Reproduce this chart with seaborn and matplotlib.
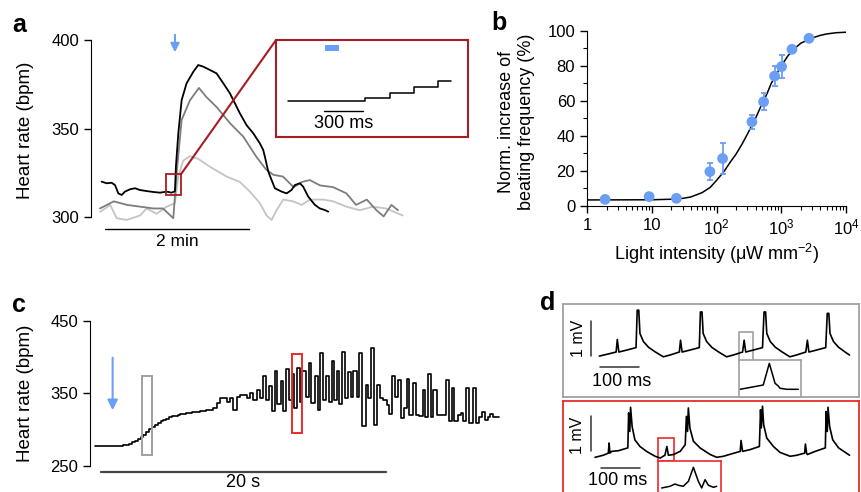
import matplotlib.pyplot as plt
import matplotlib.patches as patches
from matplotlib.patches import ConnectionPatch
from matplotlib.ticker import LogLocator, FixedLocator, NullFormatter
import seaborn as sns

sns.set_style("ticks", rc={'axes.edgecolor': 'black', 'xtick.color': 'black', 'ytick.color': 'black',
                           'text.color': 'black', 'axes.labelcolor': 'black'})
plt.rcParams['font.family'] = ['Liberation Sans', 'DejaVu Sans']
plt.rcParams['mathtext.fontset'] = 'custom'
plt.rcParams['mathtext.rm'] = 'Liberation Sans'
plt.rcParams['mathtext.it'] = 'Liberation Sans:italic'
plt.rcParams['mathtext.bf'] = 'Liberation Sans:bold'

BLUE = '#6b9ef5'
DARKRED = '#a61c23'
RED = '#ec2a2a'
GRAY = '#a0a0a0'

# ---- panel a: heart rate, three hearts (time in s, light on at 0)
black_t = [-61.1, -56.9, -52.8, -50, -47.2, -44.4, -41.7, -37.5, -33.3, -29.2, -23.6, -18.1, -12.5,
           -6.9, -2.8, 0, 0.8, 2.8, 5.6, 9.7, 15.3, 19.4, 23.6, 29.2, 34.7, 40.3, 45.8, 54.2, 59.7,
           65.3, 70.8, 73.6, 75, 77.8, 80.6, 83.3, 88.9, 93.1, 97.2, 100, 104.2, 106.9, 111.1, 116.7,
           120.8, 125, 127.8]
black_bpm = [320.1, 319.2, 319.5, 318.2, 313.5, 312.6, 314.5, 315.8, 316.4, 315.4, 314.8, 314.3,
             313.9, 314.5, 313.9, 314.7, 328.6, 347.4, 366.2, 375.6, 382.1, 385.9, 385, 383.1, 381.2,
             375.6, 370, 358.6, 352, 347.4, 341.7, 338, 334.2, 325.8, 321, 316.4, 314.5, 313.5, 315.4,
             318.2, 319.2, 317.3, 311.7, 307, 305, 304.1, 303.2]
dgray_t = [-62.5, -51, -40, -29, -18, -10, -1.4, 1.4, 5.6, 12.5, 20, 26, 35, 46, 57, 68, 76, 82, 90,
           99, 106, 112.5, 121, 132, 143, 151, 160, 168, 174, 180.5, 186]
dgray_bpm = [305, 309, 307, 306, 305, 305, 299.5, 325, 355, 366, 373, 368, 362, 353, 345.5, 334, 327,
             324, 323, 317, 320, 321, 318, 317, 313.5, 307, 310, 304, 300.5, 307, 304]
lgray_t = [-62.5, -54, -48.6, -40.3, -29.2, -23.6, -15.3, -6.9, 0, 2.8, 6.9, 12.5, 19.4, 29.2, 43, 54,
           62.5, 70.8, 76.4, 80.6, 84.7, 90.3, 98.6, 105.6, 112.5, 123.6, 132, 143, 154, 165, 176, 190]
lgray_bpm = [303, 307, 299.5, 298.5, 301, 305, 302, 306, 308, 323, 332, 334.5, 333, 328.5, 323, 320,
             314.5, 308, 301, 298.5, 304, 310, 309, 307, 310, 310, 309, 306, 304, 306, 305, 301]
# inset (ms)
inset_ms = [95, 300, 685, 872, 1057, 1241, 1344]
inset_bpm = [313.5, 313.3, 314.6, 316.5, 318.7, 320.9, 320.9]

# ---- panel b: dose response
light = [1.9, 9.1, 24, 79, 124, 352, 533, 788, 1011, 1462, 2680]
resp = [3.6, 5.2, 4.2, 19.5, 27, 48, 59.5, 74.2, 79.6, 89.5, 95.8]
resp_err = [0, 0, 0, 4.8, 9, 4, 5, 5.7, 6.7, 2, 1.5]
fit_x = [1, 10, 20, 30, 40, 60, 80, 100, 130, 160, 200, 250, 300, 400, 500, 600, 700, 850, 1000,
         1250, 1500, 2000, 3000, 4000, 5000, 7000, 10000]
fit_y = [3.3, 3.4, 3.7, 4.2, 5, 7.5, 10.5, 14.5, 19.5, 24.5, 29.5, 35.5, 41, 50, 58, 64, 70, 75.5, 80,
         85.5, 89, 93, 96, 97.5, 98.3, 99, 99.3]

# ---- panel c: beat-to-beat heart rate (s, bpm)
c_t = [0.00, 2.0, 2.2, 2.4, 2.6, 2.8, 3.0, 3.2, 3.4, 3.6, 3.8, 4.0, 4.2, 4.4, 4.6, 4.8, 5.0, 5.2,
       5.4, 5.6, 5.8, 6.0, 6.2, 6.4, 6.6, 6.8, 7.0, 7.2, 7.4, 7.6, 7.8, 8.0, 8.30, 8.54, 8.77, 9.24,
       9.47, 9.71, 9.94, 10.18, 10.64, 10.88, 11.11, 11.35,
       11.58, 11.77, 12.00, 12.19, 12.40, 12.63, 12.80, 13.03, 13.22, 13.40, 13.59, 13.80, 13.99,
       14.15, 14.39, 14.55, 14.78, 15.02, 15.16, 15.44, 15.63, 15.79, 15.98, 16.19, 16.42, 16.61,
       16.80, 16.96, 17.15, 17.36, 17.54, 17.73, 17.94, 18.13, 18.36, 18.55, 18.76, 18.99, 19.13,
       19.37, 19.58, 19.81, 20.00, 20.23, 20.47, 20.65, 20.82, 21.05, 21.29, 21.47, 21.68, 21.87,
       22.06, 22.29, 22.53, 22.76, 22.99, 23.16, 23.39, 23.56, 23.74, 23.98, 24.63, 24.82, 25.03,
       25.22, 25.45, 25.66, 25.85, 26.04, 26.27, 26.50, 26.74, 26.97, 27.16, 27.37, 27.56, 27.72,
       27.95, 28.35]
c_bpm = [277, 278, 279, 280, 282, 284, 287, 290, 293, 296.5, 300, 303.5, 306.5, 309, 311, 313, 315,
         316.5, 318, 319, 320, 321, 321.5, 322, 323, 323.5, 324, 324.5, 325, 325.5, 326.5, 327,
         329, 336, 344, 338, 344, 327, 345, 347.5, 343, 350, 341, 355,
         343, 374, 340, 360, 325, 381, 335, 367, 325, 384, 341, 377, 329,
         385, 338, 381, 345, 392, 337, 374, 327, 405, 341, 374, 338, 394,
         341, 380, 335, 407, 343, 379, 345, 381, 345, 405, 305, 361, 344,
         412, 306, 361, 344, 341, 334, 321, 374, 345, 368, 316, 329, 369,
         320, 364, 320, 318, 354, 317, 376, 317, 354, 320, 368, 311, 357,
         311, 320, 322, 311, 357, 309, 357, 309, 317, 324, 313, 317, 321,
         317, 317]

# ---- panel d: ECG traces (ms, mV)
ecg1_ms = [94, 113, 137, 140, 144, 164, 188, 191, 195, 198, 207, 220, 237, 258,
           275, 299, 302, 306, 326, 350, 353, 357, 360, 369, 382, 399, 420,
           437, 461, 465, 469, 488, 512, 516, 520, 523, 532, 545, 562, 582,
           599, 623, 627, 631, 650, 674, 678, 682, 685, 694, 707, 723, 735]
ecg1_mv = [-0.03, 0.02, 0.085, 0.44, 0.085, 0.14, 0.21, 1.27, 1.27, 0.61, 0.38, 0.22, 0.09, -0.05,
           0.0, 0.085, 0.42, 0.085, 0.14, 0.21, 1.22, 1.22, 0.61, 0.38, 0.22, 0.09, -0.05,
           0.0, 0.085, 0.42, 0.085, 0.14, 0.21, 1.22, 1.22, 0.61, 0.38, 0.22, 0.09, -0.05,
           0.0, 0.085, 0.42, 0.085, 0.14, 0.21, 1.18, 1.18, 0.61, 0.38, 0.22, 0.09, 0.0]
ecg1z_ms = [451.6, 465.4, 469.0, 472.4, 474.3, 475.3, 479.3, 486.2]
ecg1z_mv = [0.031, 0.107, 0.49, 0.137, 0.09, 0.05, 0.031, 0.031]

ecg2_ms = [83, 104, 117, 119, 121, 125.5, 143, 167, 169, 172, 174, 178, 185, 198, 215, 237, 250,
           262, 267, 271, 284, 301, 314, 317, 320, 322, 326, 335, 352, 378, 395, 412, 433, 455, 457,
           461, 480, 504, 507, 509, 512, 515, 523, 540, 557, 583, 600, 620, 622, 625, 627, 647, 673,
           675, 678, 680, 684, 692, 707, 735]
ecg2_mv = [0, 0.06, 0.12, 0.41, 0.12, 0.17, 0.19, 0.27, 1.27, 0.74, 1.43, 0.88, 0.50, 0.31, 0.17,
           0.03, -0.02, 0.06, 0.31, 0.06, 0.08, 0.17, 0.36, 1.17, 0.74, 1.41, 0.84, 0.46, 0.27, 0.08,
           0, 0.03, 0.10, 0.17, 0.48, 0.17, 0.22, 0.31, 1.36, 0.84, 1.46, 0.93, 0.55, 0.31, 0.14,
           0.03, 0.06, 0.12, 0.38, 0.12, 0.08, 0.17, 0.27, 1.31, 0.74, 1.43, 0.88, 0.50, 0.27, 0.06]
ecg2z_ms = [247.1, 252.3, 255.4, 257.5, 260.6, 263.8, 266.9, 270.0, 272.1, 274.2, 276.3, 279.4, 281.5]
ecg2z_mv = [-0.075, -0.045, -0.004, -0.027, -0.045, 0.044, 0.293, 0.044, -0.075, 0.073, -0.027,
            -0.063, -0.045]


def trace(ax, x, y, color='black', lw=1.3, **kw):
    sns.lineplot(x=x, y=y, ax=ax, color=color, lw=lw, estimator=None, sort=False, legend=False, **kw)


def box_axes(ax, color, lw=1.3):
    ax.set_xticks([])
    ax.set_yticks([])
    ax.set_xlabel('')
    ax.set_ylabel('')
    for s in ax.spines.values():
        s.set_visible(True)
        s.set_color(color)
        s.set_linewidth(lw)


fig = plt.figure(figsize=(8.61, 4.92), dpi=100)

# ===================== a
ax_a = fig.add_axes([0.1057, 0.5439, 0.3705, 0.3819])
trace(ax_a, lgray_t, lgray_bpm, color='#c4c4c4')
trace(ax_a, dgray_t, dgray_bpm, color='#7d7d7d')
trace(ax_a, black_t, black_bpm, color='black')
ax_a.set_xlim(-70, 196)
ax_a.set_ylim(296, 402)
sns.despine(ax=ax_a, bottom=True)
ax_a.set_xticks([])
ax_a.set_yticks([300, 350, 400])
ax_a.spines['left'].set_bounds(300, 400)
ax_a.tick_params(axis='y', labelsize=12, length=5, width=1)
ax_a.set_ylabel('Heart rate (bpm)', fontsize=13.5)
ax_a.yaxis.set_label_coords(-0.179, 0.5)
ax_a.plot([-58.3, 61.7], [293.2, 293.2], color='black', lw=1, clip_on=False)
ax_a.text(1.7, 286.6, '2 min', ha='center', va='center', fontsize=12.5)
ax_a.annotate('', xy=(0, 391.5), xytext=(0, 404.5), annotation_clip=False,
              arrowprops=dict(arrowstyle='-|>', color=BLUE, lw=1.5, mutation_scale=13))
ax_a.add_patch(patches.Rectangle((-7.5, 312.4), 12.5, 11.9, fill=False, ec=DARKRED, lw=1.3, zorder=5))

ax_ai = fig.add_axes([0.3206, 0.7222, 0.2233, 0.1965])
trace(ax_ai, inset_ms, inset_bpm, color='black', lw=1.1, drawstyle='steps-post')
ax_ai.set_xlim(0, 1477)
ax_ai.set_ylim(300.2, 336)
box_axes(ax_ai, DARKRED, lw=1.5)
ax_ai.add_patch(patches.Rectangle((377, 331.9), 108, 2.2, color=BLUE, lw=0))
ax_ai.plot([371, 671], [309.7, 309.7], color='black', lw=1)
ax_ai.text(521, 304.9, '300 ms', ha='center', va='center', fontsize=13)
con = ConnectionPatch(xyA=(5, 324.3), coordsA=ax_a.transData, xyB=(0, 1), coordsB=ax_ai.transAxes,
                      color=DARKRED, lw=1.5)
fig.add_artist(con)

# ===================== b
ax_b = fig.add_axes([0.6818, 0.5819, 0.3008, 0.3551])
ax_b.set_xscale('log')
trace(ax_b, fit_x, fit_y, color='black', lw=1.1)
ax_b.errorbar(light, resp, yerr=resp_err, fmt='none', ecolor=BLUE, elinewidth=1.3, capsize=2.5,
              capthick=1.3, zorder=2)
sns.scatterplot(x=light, y=resp, ax=ax_b, color=BLUE, s=60, edgecolor='none', zorder=3, clip_on=False)
ax_b.set_xlim(1, 1e4)
ax_b.set_ylim(0, 100)
sns.despine(ax=ax_b)
ax_b.set_xticks([1, 10, 100, 1000, 10000], labels=['1', '10', '$10^2$', '$10^3$', '$10^4$'])
ax_b.xaxis.set_minor_locator(LogLocator(base=10, subs=range(2, 10)))
ax_b.xaxis.set_minor_formatter(NullFormatter())
ax_b.set_yticks([0, 20, 40, 60, 80, 100])
ax_b.yaxis.set_minor_locator(FixedLocator([10, 30, 50, 70, 90]))
ax_b.tick_params(which='major', labelsize=12, length=5, width=1)
ax_b.tick_params(which='minor', length=3, width=0.8)
ax_b.set_xlabel('Light intensity (μW mm$^{-2}$)', fontsize=13, labelpad=3)
ax_b.set_ylabel('Norm. increase of\nbeating frequency (%)', fontsize=13, linespacing=1.25)
ax_b.yaxis.set_label_coords(-0.2, 0.48)

# ===================== c
ax_c = fig.add_axes([0.1045, 0.0535, 0.482, 0.2947])
trace(ax_c, c_t, c_bpm, color='black', lw=1.2, drawstyle='steps-post')
ax_c.set_xlim(-0.35, 28.77)
ax_c.set_ylim(250, 450)
sns.despine(ax=ax_c, bottom=True)
ax_c.set_xticks([])
ax_c.set_yticks([250, 350, 450])
ax_c.tick_params(axis='y', labelsize=12, length=5, width=1)
ax_c.set_ylabel('Heart rate (bpm)', fontsize=13.5)
ax_c.yaxis.set_label_coords(-0.135, 0.5)
ax_c.plot([0.42, 20.42], [241.7, 241.7], color='#444444', lw=1.6, clip_on=False)
ax_c.text(10.4, 226.5, '20 s', ha='center', va='center', fontsize=13)
ax_c.annotate('', xy=(1.24, 322.7), xytext=(1.24, 402.7),
              arrowprops=dict(arrowstyle='-|>', color=BLUE, lw=1.5, mutation_scale=15))
ax_c.add_patch(patches.Rectangle((3.30, 265), 0.70, 108.7, fill=False, ec=GRAY, lw=1.4, zorder=5))
ax_c.add_patch(patches.Rectangle((13.80, 294.7), 0.73, 109.3, fill=False, ec=RED, lw=1.4, zorder=5))

# ===================== d
ax_d1 = fig.add_axes([0.6535, 0.1937, 0.3445, 0.1884])
trace(ax_d1, ecg1_ms, ecg1_mv, color='black', lw=1.2)
ax_d1.set_xlim(0, 760)
ax_d1.set_ylim(-1.18, 1.445)
box_axes(ax_d1, GRAY, lw=1.3)
ax_d1.plot([95.6, 195.6], [-0.33, -0.33], color='#333333', lw=1.1)
ax_d1.text(150, -0.76, '100 ms', ha='center', va='center', fontsize=13)
ax_d1.plot([71.7, 71.7], [-0.03, 0.97], color='#333333', lw=1.1)
ax_d1.text(40, 0.47, '1 mV', ha='center', va='center', rotation=90, fontsize=11.5)
ax_d1.add_patch(patches.Rectangle((452, -0.16), 36.7, 0.82, fill=False, ec=GRAY, lw=1.2))

ax_d1i = fig.add_axes([0.8583, 0.1937, 0.0724, 0.0746])
trace(ax_d1i, ecg1z_ms, ecg1z_mv, color='black', lw=1.1)
ax_d1i.set_xlim(451, 488)
ax_d1i.set_ylim(-0.1, 0.55)
box_axes(ax_d1i, GRAY, lw=1.2)

ax_d2 = fig.add_axes([0.6535, -0.0061, 0.3445, 0.1904])
trace(ax_d2, ecg2_ms, ecg2_mv, color='black', lw=1.2)
ax_d2.set_xlim(0, 760)
ax_d2.set_ylim(-1.076, 1.60)
box_axes(ax_d2, RED, lw=1.3)
ax_d2.plot([97.4, 197.4], [-0.305, -0.305], color='#333333', lw=1.1)
ax_d2.text(140, -0.66, '100 ms', ha='center', va='center', fontsize=13)
ax_d2.plot([71.7, 71.7], [0.17, 1.17], color='#333333', lw=1.1)
ax_d2.text(38, 0.62, '1 mV', ha='center', va='center', rotation=90, fontsize=11.5)
ax_d2.add_patch(patches.Rectangle((245, -0.095), 39, 0.645, fill=False, ec=RED, lw=1.2))

ax_d2i = fig.add_axes([0.7646, -0.0061, 0.0725, 0.0685])
trace(ax_d2i, ecg2z_ms, ecg2z_mv, color='black', lw=1.1)
ax_d2i.set_xlim(245, 284)
ax_d2i.set_ylim(-0.2, 0.4)
box_axes(ax_d2i, RED, lw=1.2)

# panel letters
for letter, px, py in [('a', 12, 32), ('b', 491, 30), ('c', 12, 312), ('d', 540, 310)]:
    fig.text(px / 861, 1 - py / 492, letter, fontsize=18, fontweight='bold', ha='left', va='baseline')

fig.savefig('out.png', dpi=100)
